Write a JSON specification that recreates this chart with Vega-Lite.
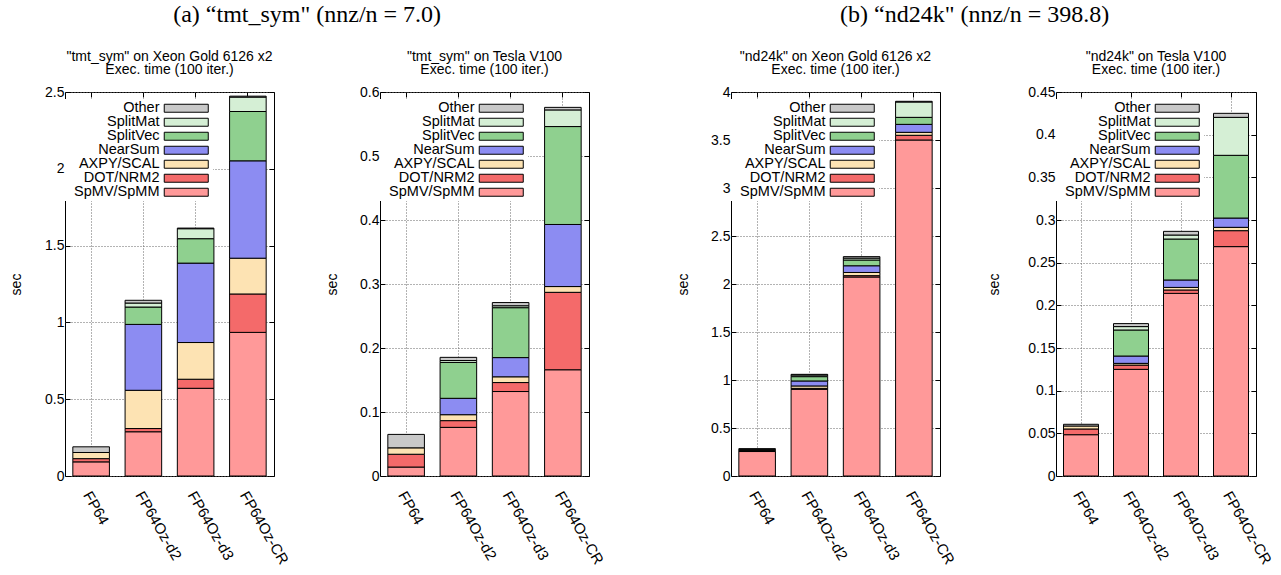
{
  "$schema": "https://vega.github.io/schema/vega-lite/v6.json",
  "padding": {"left": 8, "top": 3, "right": 5, "bottom": 5},
  "background": "white",
  "config": {
    "view": {"stroke": "black", "strokeWidth": 1},
    "axis": {"labelFont": "Liberation Sans", "labelFontSize": 14, "labelColor": "black", "titleFont": "Liberation Sans", "titleFontSize": 14, "titleFontWeight": "normal", "titleColor": "black", "domainColor": "black", "tickColor": "black", "gridColor": "#666666", "gridDash": [1, 2], "gridOpacity": 1},
    "axisX": {"labelOffset": -4, "labelPadding": 21, "labelFontSize": 15},
    "axisY": {"titleBaseline": "middle", "titleY": 192, "titleAngle": -90},
    "legend": {"orient": "none", "legendX": 0, "legendY": 7, "title": null, "symbolType": "M-3.385,-0.615H3.385V0.615H-3.385Z", "symbolSize": 169, "labelOffset": -34, "symbolOffset": 112, "labelAlign": "right", "labelFont": "Liberation Sans", "labelFontSize": 14.5, "labelColor": "black", "fillColor": "white", "padding": 2, "rowPadding": -1, "symbolStrokeColor": "black", "symbolStrokeWidth": 1, "labelLimit": 200, "symbolOpacity": 1},
    "title": {"font": "Liberation Sans", "fontSize": 14, "fontWeight": "normal", "color": "black", "anchor": "middle"}
  },
  "datasets": {
    "d": [
      {"p": "a1", "m": "FP64", "s": "SpMV/SpMM", "k": 1, "v": 0.092},
      {"p": "a1", "m": "FP64", "s": "DOT/NRM2", "k": 2, "v": 0.021},
      {"p": "a1", "m": "FP64", "s": "AXPY/SCAL", "k": 3, "v": 0.040},
      {"p": "a1", "m": "FP64", "s": "Other", "k": 7, "v": 0.037},
      {"p": "a1", "m": "FP64Oz-d2", "s": "SpMV/SpMM", "k": 1, "v": 0.288},
      {"p": "a1", "m": "FP64Oz-d2", "s": "DOT/NRM2", "k": 2, "v": 0.021},
      {"p": "a1", "m": "FP64Oz-d2", "s": "AXPY/SCAL", "k": 3, "v": 0.249},
      {"p": "a1", "m": "FP64Oz-d2", "s": "NearSum", "k": 4, "v": 0.429},
      {"p": "a1", "m": "FP64Oz-d2", "s": "SplitVec", "k": 5, "v": 0.113},
      {"p": "a1", "m": "FP64Oz-d2", "s": "SplitMat", "k": 6, "v": 0.026},
      {"p": "a1", "m": "FP64Oz-d2", "s": "Other", "k": 7, "v": 0.018},
      {"p": "a1", "m": "FP64Oz-d3", "s": "SpMV/SpMM", "k": 1, "v": 0.571},
      {"p": "a1", "m": "FP64Oz-d3", "s": "DOT/NRM2", "k": 2, "v": 0.059},
      {"p": "a1", "m": "FP64Oz-d3", "s": "AXPY/SCAL", "k": 3, "v": 0.239},
      {"p": "a1", "m": "FP64Oz-d3", "s": "NearSum", "k": 4, "v": 0.517},
      {"p": "a1", "m": "FP64Oz-d3", "s": "SplitVec", "k": 5, "v": 0.159},
      {"p": "a1", "m": "FP64Oz-d3", "s": "SplitMat", "k": 6, "v": 0.065},
      {"p": "a1", "m": "FP64Oz-d3", "s": "Other", "k": 7, "v": 0.004},
      {"p": "a1", "m": "FP64Oz-CR", "s": "SpMV/SpMM", "k": 1, "v": 0.935},
      {"p": "a1", "m": "FP64Oz-CR", "s": "DOT/NRM2", "k": 2, "v": 0.250},
      {"p": "a1", "m": "FP64Oz-CR", "s": "AXPY/SCAL", "k": 3, "v": 0.233},
      {"p": "a1", "m": "FP64Oz-CR", "s": "NearSum", "k": 4, "v": 0.634},
      {"p": "a1", "m": "FP64Oz-CR", "s": "SplitVec", "k": 5, "v": 0.321},
      {"p": "a1", "m": "FP64Oz-CR", "s": "SplitMat", "k": 6, "v": 0.094},
      {"p": "a1", "m": "FP64Oz-CR", "s": "Other", "k": 7, "v": 0.006},

      {"p": "a2", "m": "FP64", "s": "SpMV/SpMM", "k": 1, "v": 0.014},
      {"p": "a2", "m": "FP64", "s": "DOT/NRM2", "k": 2, "v": 0.020},
      {"p": "a2", "m": "FP64", "s": "AXPY/SCAL", "k": 3, "v": 0.010},
      {"p": "a2", "m": "FP64", "s": "Other", "k": 7, "v": 0.021},
      {"p": "a2", "m": "FP64Oz-d2", "s": "SpMV/SpMM", "k": 1, "v": 0.076},
      {"p": "a2", "m": "FP64Oz-d2", "s": "DOT/NRM2", "k": 2, "v": 0.0105},
      {"p": "a2", "m": "FP64Oz-d2", "s": "AXPY/SCAL", "k": 3, "v": 0.0093},
      {"p": "a2", "m": "FP64Oz-d2", "s": "NearSum", "k": 4, "v": 0.0256},
      {"p": "a2", "m": "FP64Oz-d2", "s": "SplitVec", "k": 5, "v": 0.056},
      {"p": "a2", "m": "FP64Oz-d2", "s": "SplitMat", "k": 6, "v": 0.003},
      {"p": "a2", "m": "FP64Oz-d2", "s": "Other", "k": 7, "v": 0.005},
      {"p": "a2", "m": "FP64Oz-d3", "s": "SpMV/SpMM", "k": 1, "v": 0.132},
      {"p": "a2", "m": "FP64Oz-d3", "s": "DOT/NRM2", "k": 2, "v": 0.014},
      {"p": "a2", "m": "FP64Oz-d3", "s": "AXPY/SCAL", "k": 3, "v": 0.009},
      {"p": "a2", "m": "FP64Oz-d3", "s": "NearSum", "k": 4, "v": 0.030},
      {"p": "a2", "m": "FP64Oz-d3", "s": "SplitVec", "k": 5, "v": 0.078},
      {"p": "a2", "m": "FP64Oz-d3", "s": "SplitMat", "k": 6, "v": 0.003},
      {"p": "a2", "m": "FP64Oz-d3", "s": "Other", "k": 7, "v": 0.005},
      {"p": "a2", "m": "FP64Oz-CR", "s": "SpMV/SpMM", "k": 1, "v": 0.166},
      {"p": "a2", "m": "FP64Oz-CR", "s": "DOT/NRM2", "k": 2, "v": 0.121},
      {"p": "a2", "m": "FP64Oz-CR", "s": "AXPY/SCAL", "k": 3, "v": 0.009},
      {"p": "a2", "m": "FP64Oz-CR", "s": "NearSum", "k": 4, "v": 0.097},
      {"p": "a2", "m": "FP64Oz-CR", "s": "SplitVec", "k": 5, "v": 0.153},
      {"p": "a2", "m": "FP64Oz-CR", "s": "SplitMat", "k": 6, "v": 0.026},
      {"p": "a2", "m": "FP64Oz-CR", "s": "Other", "k": 7, "v": 0.004},

      {"p": "b1", "m": "FP64", "s": "SpMV/SpMM", "k": 1, "v": 0.255},
      {"p": "b1", "m": "FP64", "s": "DOT/NRM2", "k": 2, "v": 0.010},
      {"p": "b1", "m": "FP64", "s": "AXPY/SCAL", "k": 3, "v": 0.012},
      {"p": "b1", "m": "FP64", "s": "Other", "k": 7, "v": 0.008},
      {"p": "b1", "m": "FP64Oz-d2", "s": "SpMV/SpMM", "k": 1, "v": 0.903},
      {"p": "b1", "m": "FP64Oz-d2", "s": "DOT/NRM2", "k": 2, "v": 0.010},
      {"p": "b1", "m": "FP64Oz-d2", "s": "AXPY/SCAL", "k": 3, "v": 0.025},
      {"p": "b1", "m": "FP64Oz-d2", "s": "NearSum", "k": 4, "v": 0.052},
      {"p": "b1", "m": "FP64Oz-d2", "s": "SplitVec", "k": 5, "v": 0.045},
      {"p": "b1", "m": "FP64Oz-d2", "s": "SplitMat", "k": 6, "v": 0.017},
      {"p": "b1", "m": "FP64Oz-d2", "s": "Other", "k": 7, "v": 0.007},
      {"p": "b1", "m": "FP64Oz-d3", "s": "SpMV/SpMM", "k": 1, "v": 2.073},
      {"p": "b1", "m": "FP64Oz-d3", "s": "DOT/NRM2", "k": 2, "v": 0.014},
      {"p": "b1", "m": "FP64Oz-d3", "s": "AXPY/SCAL", "k": 3, "v": 0.033},
      {"p": "b1", "m": "FP64Oz-d3", "s": "NearSum", "k": 4, "v": 0.070},
      {"p": "b1", "m": "FP64Oz-d3", "s": "SplitVec", "k": 5, "v": 0.060},
      {"p": "b1", "m": "FP64Oz-d3", "s": "SplitMat", "k": 6, "v": 0.020},
      {"p": "b1", "m": "FP64Oz-d3", "s": "Other", "k": 7, "v": 0.015},
      {"p": "b1", "m": "FP64Oz-CR", "s": "SpMV/SpMM", "k": 1, "v": 3.500},
      {"p": "b1", "m": "FP64Oz-CR", "s": "DOT/NRM2", "k": 2, "v": 0.049},
      {"p": "b1", "m": "FP64Oz-CR", "s": "AXPY/SCAL", "k": 3, "v": 0.031},
      {"p": "b1", "m": "FP64Oz-CR", "s": "NearSum", "k": 4, "v": 0.083},
      {"p": "b1", "m": "FP64Oz-CR", "s": "SplitVec", "k": 5, "v": 0.073},
      {"p": "b1", "m": "FP64Oz-CR", "s": "SplitMat", "k": 6, "v": 0.160},
      {"p": "b1", "m": "FP64Oz-CR", "s": "Other", "k": 7, "v": 0.007},

      {"p": "b2", "m": "FP64", "s": "SpMV/SpMM", "k": 1, "v": 0.0484},
      {"p": "b2", "m": "FP64", "s": "DOT/NRM2", "k": 2, "v": 0.0067},
      {"p": "b2", "m": "FP64", "s": "AXPY/SCAL", "k": 3, "v": 0.0035},
      {"p": "b2", "m": "FP64", "s": "Other", "k": 7, "v": 0.002},
      {"p": "b2", "m": "FP64Oz-d2", "s": "SpMV/SpMM", "k": 1, "v": 0.125},
      {"p": "b2", "m": "FP64Oz-d2", "s": "DOT/NRM2", "k": 2, "v": 0.005},
      {"p": "b2", "m": "FP64Oz-d2", "s": "AXPY/SCAL", "k": 3, "v": 0.002},
      {"p": "b2", "m": "FP64Oz-d2", "s": "NearSum", "k": 4, "v": 0.0086},
      {"p": "b2", "m": "FP64Oz-d2", "s": "SplitVec", "k": 5, "v": 0.0305},
      {"p": "b2", "m": "FP64Oz-d2", "s": "SplitMat", "k": 6, "v": 0.004},
      {"p": "b2", "m": "FP64Oz-d2", "s": "Other", "k": 7, "v": 0.0035},
      {"p": "b2", "m": "FP64Oz-d3", "s": "SpMV/SpMM", "k": 1, "v": 0.214},
      {"p": "b2", "m": "FP64Oz-d3", "s": "DOT/NRM2", "k": 2, "v": 0.004},
      {"p": "b2", "m": "FP64Oz-d3", "s": "AXPY/SCAL", "k": 3, "v": 0.003},
      {"p": "b2", "m": "FP64Oz-d3", "s": "NearSum", "k": 4, "v": 0.0087},
      {"p": "b2", "m": "FP64Oz-d3", "s": "SplitVec", "k": 5, "v": 0.048},
      {"p": "b2", "m": "FP64Oz-d3", "s": "SplitMat", "k": 6, "v": 0.0047},
      {"p": "b2", "m": "FP64Oz-d3", "s": "Other", "k": 7, "v": 0.0043},
      {"p": "b2", "m": "FP64Oz-CR", "s": "SpMV/SpMM", "k": 1, "v": 0.2688},
      {"p": "b2", "m": "FP64Oz-CR", "s": "DOT/NRM2", "k": 2, "v": 0.0187},
      {"p": "b2", "m": "FP64Oz-CR", "s": "AXPY/SCAL", "k": 3, "v": 0.0039},
      {"p": "b2", "m": "FP64Oz-CR", "s": "NearSum", "k": 4, "v": 0.0109},
      {"p": "b2", "m": "FP64Oz-CR", "s": "SplitVec", "k": 5, "v": 0.0735},
      {"p": "b2", "m": "FP64Oz-CR", "s": "SplitMat", "k": 6, "v": 0.0445},
      {"p": "b2", "m": "FP64Oz-CR", "s": "Other", "k": 7, "v": 0.0047}
    ]
  },
  "spacing": 69,
  "resolve": {"scale": {"color": "independent", "y": "independent", "x": "independent"}, "legend": {"color": "independent"}, "axis": {"x": "independent", "y": "independent"}},
  "hconcat": [
    {
      "title": {"text": "(a) “tmt_sym\" (nnz/n = 7.0)", "font": "Liberation Serif", "fontSize": 24, "fontWeight": "normal", "anchor": "middle", "offset": 22},
      "spacing": 33,
      "resolve": {"scale": {"color": "independent", "y": "independent", "x": "independent"}, "legend": {"color": "independent"}, "axis": {"x": "independent", "y": "independent"}},
      "hconcat": [
        {
          "width": 209, "height": 384,
          "title": {"text": ["\"tmt_sym\" on Xeon Gold 6126 x2", "Exec. time (100 iter.)"], "lineHeight": 13.5, "offset": 8},
          "data": {"name": "d"},
          "transform": [{"filter": "datum.p == 'a1'"}],
          "resolve": {"axis": {"x": "independent", "y": "independent"}},
          "layer": [
            {
              "mark": {"type": "bar", "stroke": "black", "strokeWidth": 1, "opacity": 1},
              "encoding": {
                "x": {"field": "m", "type": "nominal", "sort": ["FP64", "FP64Oz-d2", "FP64Oz-d3", "FP64Oz-CR"], "scale": {"paddingInner": 0.3, "paddingOuter": 0.15}, "axis": {"title": null, "labelAngle": 60, "labelAlign": "left", "labelBaseline": "middle", "tickSize": -5, "grid": true, "domain": false}},
                "y": {"field": "v", "type": "quantitative", "stack": "zero", "scale": {"domain": [0, 2.5], "nice": false}, "axis": {"title": "sec", "titleX": -49, "values": [0, 0.5, 1, 1.5, 2, 2.5], "format": "~g", "tickSize": -5, "grid": true, "domain": false, "labelPadding": 6}},
                "color": {"field": "s", "type": "nominal", "scale": {"domain": ["Other", "SplitMat", "SplitVec", "NearSum", "AXPY/SCAL", "DOT/NRM2", "SpMV/SpMM"], "range": ["#c9c9c9", "#d5efd5", "#8fd08f", "#8c8cf2", "#fde3b3", "#f46a6a", "#ff9999"]}},
                "order": {"field": "k", "type": "quantitative"}
              }
            },
            {
              "mark": {"type": "bar", "opacity": 0},
              "encoding": {
                "x": {"field": "m", "type": "nominal", "sort": ["FP64", "FP64Oz-d2", "FP64Oz-d3", "FP64Oz-CR"], "axis": {"orient": "top", "title": null, "labels": false, "tickSize": -5, "grid": false, "domain": false}},
                "y": {"field": "v", "type": "quantitative", "axis": {"orient": "right", "title": null, "values": [0, 0.5, 1, 1.5, 2, 2.5], "labels": false, "tickSize": -5, "grid": false, "domain": false}}
              }
            }
          ]
        },
        {
          "width": 209, "height": 384,
          "title": {"text": ["\"tmt_sym\" on Tesla V100", "Exec. time (100 iter.)"], "lineHeight": 13.5, "offset": 8},
          "data": {"name": "d"},
          "transform": [{"filter": "datum.p == 'a2'"}],
          "resolve": {"axis": {"x": "independent", "y": "independent"}},
          "layer": [
            {
              "mark": {"type": "bar", "stroke": "black", "strokeWidth": 1, "opacity": 1},
              "encoding": {
                "x": {"field": "m", "type": "nominal", "sort": ["FP64", "FP64Oz-d2", "FP64Oz-d3", "FP64Oz-CR"], "scale": {"paddingInner": 0.3, "paddingOuter": 0.15}, "axis": {"title": null, "labelAngle": 60, "labelAlign": "left", "labelBaseline": "middle", "tickSize": -5, "grid": true, "domain": false}},
                "y": {"field": "v", "type": "quantitative", "stack": "zero", "scale": {"domain": [0, 0.6], "nice": false}, "axis": {"title": "sec", "titleX": -48, "values": [0, 0.1, 0.2, 0.3, 0.4, 0.5, 0.6], "format": "~g", "tickSize": -5, "grid": true, "domain": false, "labelPadding": 6}},
                "color": {"field": "s", "type": "nominal", "scale": {"domain": ["Other", "SplitMat", "SplitVec", "NearSum", "AXPY/SCAL", "DOT/NRM2", "SpMV/SpMM"], "range": ["#c9c9c9", "#d5efd5", "#8fd08f", "#8c8cf2", "#fde3b3", "#f46a6a", "#ff9999"]}},
                "order": {"field": "k", "type": "quantitative"}
              }
            },
            {
              "mark": {"type": "bar", "opacity": 0},
              "encoding": {
                "x": {"field": "m", "type": "nominal", "sort": ["FP64", "FP64Oz-d2", "FP64Oz-d3", "FP64Oz-CR"], "axis": {"orient": "top", "title": null, "labels": false, "tickSize": -5, "grid": false, "domain": false}},
                "y": {"field": "v", "type": "quantitative", "axis": {"orient": "right", "title": null, "values": [0, 0.1, 0.2, 0.3, 0.4, 0.5, 0.6], "labels": false, "tickSize": -5, "grid": false, "domain": false}}
              }
            }
          ]
        }
      ]
    },
    {
      "title": {"text": "(b) “nd24k\" (nnz/n = 398.8)", "font": "Liberation Serif", "fontSize": 24, "fontWeight": "normal", "anchor": "middle", "offset": 22},
      "spacing": 29,
      "resolve": {"scale": {"color": "independent", "y": "independent", "x": "independent"}, "legend": {"color": "independent"}, "axis": {"x": "independent", "y": "independent"}},
      "hconcat": [
        {
          "width": 209, "height": 384,
          "title": {"text": ["\"nd24k\" on Xeon Gold 6126 x2", "Exec. time (100 iter.)"], "lineHeight": 13.5, "offset": 8},
          "data": {"name": "d"},
          "transform": [{"filter": "datum.p == 'b1'"}],
          "resolve": {"axis": {"x": "independent", "y": "independent"}},
          "layer": [
            {
              "mark": {"type": "bar", "stroke": "black", "strokeWidth": 1, "opacity": 1},
              "encoding": {
                "x": {"field": "m", "type": "nominal", "sort": ["FP64", "FP64Oz-d2", "FP64Oz-d3", "FP64Oz-CR"], "scale": {"paddingInner": 0.3, "paddingOuter": 0.15}, "axis": {"title": null, "labelAngle": 60, "labelAlign": "left", "labelBaseline": "middle", "tickSize": -5, "grid": true, "domain": false}},
                "y": {"field": "v", "type": "quantitative", "stack": "zero", "scale": {"domain": [0, 4], "nice": false}, "axis": {"title": "sec", "titleX": -48, "values": [0, 0.5, 1, 1.5, 2, 2.5, 3, 3.5, 4], "format": "~g", "tickSize": -5, "grid": true, "domain": false, "labelPadding": 6}},
                "color": {"field": "s", "type": "nominal", "scale": {"domain": ["Other", "SplitMat", "SplitVec", "NearSum", "AXPY/SCAL", "DOT/NRM2", "SpMV/SpMM"], "range": ["#c9c9c9", "#d5efd5", "#8fd08f", "#8c8cf2", "#fde3b3", "#f46a6a", "#ff9999"]}},
                "order": {"field": "k", "type": "quantitative"}
              }
            },
            {
              "mark": {"type": "bar", "opacity": 0},
              "encoding": {
                "x": {"field": "m", "type": "nominal", "sort": ["FP64", "FP64Oz-d2", "FP64Oz-d3", "FP64Oz-CR"], "axis": {"orient": "top", "title": null, "labels": false, "tickSize": -5, "grid": false, "domain": false}},
                "y": {"field": "v", "type": "quantitative", "axis": {"orient": "right", "title": null, "values": [0, 0.5, 1, 1.5, 2, 2.5, 3, 3.5, 4], "labels": false, "tickSize": -5, "grid": false, "domain": false}}
              }
            }
          ]
        },
        {
          "width": 200, "height": 384,
          "title": {"text": ["\"nd24k\" on Tesla V100", "Exec. time (100 iter.)"], "lineHeight": 13.5, "offset": 8},
          "data": {"name": "d"},
          "transform": [{"filter": "datum.p == 'b2'"}],
          "resolve": {"axis": {"x": "independent", "y": "independent"}},
          "layer": [
            {
              "mark": {"type": "bar", "stroke": "black", "strokeWidth": 1, "opacity": 1},
              "encoding": {
                "x": {"field": "m", "type": "nominal", "sort": ["FP64", "FP64Oz-d2", "FP64Oz-d3", "FP64Oz-CR"], "scale": {"paddingInner": 0.3, "paddingOuter": 0.15}, "axis": {"title": null, "labelAngle": 60, "labelAlign": "left", "labelBaseline": "middle", "tickSize": -5, "grid": true, "domain": false}},
                "y": {"field": "v", "type": "quantitative", "stack": "zero", "scale": {"domain": [0, 0.45], "nice": false}, "axis": {"title": "sec", "titleX": -62, "values": [0, 0.05, 0.1, 0.15, 0.2, 0.25, 0.3, 0.35, 0.4, 0.45], "format": "~g", "tickSize": -5, "grid": true, "domain": false, "labelPadding": 6}},
                "color": {"field": "s", "type": "nominal", "scale": {"domain": ["Other", "SplitMat", "SplitVec", "NearSum", "AXPY/SCAL", "DOT/NRM2", "SpMV/SpMM"], "range": ["#c9c9c9", "#d5efd5", "#8fd08f", "#8c8cf2", "#fde3b3", "#f46a6a", "#ff9999"]}},
                "order": {"field": "k", "type": "quantitative"}
              }
            },
            {
              "mark": {"type": "bar", "opacity": 0},
              "encoding": {
                "x": {"field": "m", "type": "nominal", "sort": ["FP64", "FP64Oz-d2", "FP64Oz-d3", "FP64Oz-CR"], "axis": {"orient": "top", "title": null, "labels": false, "tickSize": -5, "grid": false, "domain": false}},
                "y": {"field": "v", "type": "quantitative", "axis": {"orient": "right", "title": null, "values": [0, 0.05, 0.1, 0.15, 0.2, 0.25, 0.3, 0.35, 0.4, 0.45], "labels": false, "tickSize": -5, "grid": false, "domain": false}}
              }
            }
          ]
        }
      ]
    }
  ]
}
